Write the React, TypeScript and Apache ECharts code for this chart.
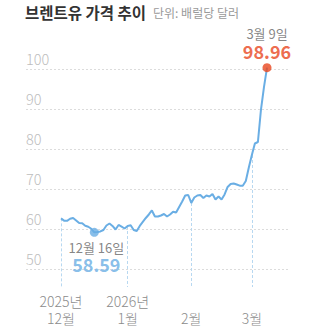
import React, { useEffect, useRef } from "react";
import * as echarts from "echarts";

const dates = [
  "2025-12-01", "2025-12-02", "2025-12-03", "2025-12-04", "2025-12-05",
  "2025-12-08", "2025-12-09", "2025-12-10", "2025-12-11", "2025-12-12",
  "2025-12-15", "2025-12-16", "2025-12-17", "2025-12-18", "2025-12-19",
  "2025-12-22", "2025-12-23", "2025-12-24", "2025-12-26", "2025-12-29",
  "2025-12-30", "2025-12-31",
  "2026-01-02", "2026-01-05", "2026-01-06", "2026-01-07", "2026-01-08",
  "2026-01-09", "2026-01-12", "2026-01-13", "2026-01-14", "2026-01-15",
  "2026-01-16", "2026-01-19", "2026-01-20", "2026-01-21", "2026-01-22",
  "2026-01-23", "2026-01-26", "2026-01-27", "2026-01-28", "2026-01-29",
  "2026-01-30",
  "2026-02-02", "2026-02-03", "2026-02-04", "2026-02-05", "2026-02-06",
  "2026-02-09", "2026-02-10", "2026-02-11", "2026-02-12", "2026-02-13",
  "2026-02-16", "2026-02-17", "2026-02-18", "2026-02-19", "2026-02-20",
  "2026-02-23", "2026-02-24", "2026-02-25", "2026-02-26", "2026-02-27",
  "2026-03-02", "2026-03-03", "2026-03-04", "2026-03-05", "2026-03-06",
  "2026-03-09",
];

const brentPrice = [
  62.0, 61.45, 61.4, 61.9, 62.1, 61.5, 60.85, 60.8, 60.2, 59.95,
  59.45, 58.59, 58.66, 58.79, 59.15, 60.26, 60.75, 60.14, 59.28, 60.38,
  59.96, 59.52,
  60.14, 60.3, 59.15, 58.91, 60.14, 61.12, 62.1, 62.96, 63.94, 62.47,
  62.47, 62.71, 63.08, 62.47, 62.96, 63.64, 63.45, 64.8, 66.14, 67.62,
  67.74,
  65.78, 67.13, 67.62, 67.74, 67.0, 67.62, 67.37, 67.98, 66.63, 67.37,
  66.63, 67.86, 69.7, 70.44, 70.56, 70.31, 70.02, 70.02, 71.17, 74.48,
  77.55, 80.37, 80.74, 88.6, 94.2, 98.96,
];

// month ticks: first trading day of each month -> label (year line, month line)
const monthTickDates = ["2025-12-01", "2026-01-02", "2026-02-02", "2026-03-02"];
const monthTickYears = ["2025년", "2026년", "", ""];
const monthTickMonths = ["12월", "1월", "2월", "3월"];

const highlightDates = ["2025-12-16", "2026-03-09"];
const highlightNames = ["12월 16일", "3월 9일"];
const highlightValues = [58.59, 98.96];
const highlightColors = ["#6aaee4", "#e8461e"];
const highlightPositions = ["bottom", "top"];

const gridTickLabels = [50, 60, 70, 80, 90, 100];

const FONT = "Noto Sans CJK KR";
const DATA_MIN = 45.17;
const DATA_MAX = 100.85;

export default function App() {
  const ref = useRef<HTMLDivElement>(null);

  useEffect(() => {
    if (!ref.current) return;
    const chart = echarts.init(ref.current, null, { renderer: "svg" });

    const markLineData = monthTickDates.map((d) => {
      const idx = dates.indexOf(d);
      return [
        { coord: [d, brentPrice[idx]] },
        { coord: [d, DATA_MIN] },
      ];
    });

    const xLabelBase = {
      interval: (_i: number, v: string) => monthTickDates.indexOf(v) >= 0,
      fontFamily: FONT,
      fontSize: 14,
      fontWeight: 300,
      color: "#8c8c8c",
      lineHeight: 16,
    };

    const option: any = {
      animation: false,
      textStyle: { fontFamily: FONT },
      graphic: [
        {
          type: "text",
          left: 25,
          top: 4,
          style: {
            text: "브렌트유 가격 추이",
            fontSize: 15.5,
            fontWeight: "bold",
            fontFamily: FONT,
            fill: "#333333",
          },
        },
        {
          type: "text",
          left: 153,
          top: 6,
          style: {
            text: "단위: 배럴당 달러",
            fontSize: 12,
            fontFamily: FONT,
            fill: "#9a9a9a",
          },
        },
      ],
      grid: [
        { left: 26, right: 27, top: 69, bottom: 25 },
        { left: 61, right: 48, top: 60, bottom: 47 },
      ],
      xAxis: [
        { type: "value", gridIndex: 0, min: 0, max: 1, show: false },
        {
          type: "category",
          gridIndex: 1,
          data: dates,
          boundaryGap: false,
          axisLine: { show: false },
          axisTick: { show: false },
          splitLine: { show: false },
          axisLabel: {
            ...xLabelBase,
            margin: 6,
            formatter: (v: string) => {
              const k = monthTickDates.indexOf(v);
              return k < 0 ? "" : monthTickYears[k];
            },
          },
        },
        {
          type: "category",
          gridIndex: 1,
          data: dates,
          position: "bottom",
          boundaryGap: false,
          axisLine: { show: false },
          axisTick: { show: false },
          splitLine: { show: false },
          axisLabel: {
            ...xLabelBase,
            margin: 23,
            formatter: (v: string) => {
              const k = monthTickDates.indexOf(v);
              return k < 0 ? "" : monthTickMonths[k];
            },
          },
        },
      ],
      yAxis: [
        {
          type: "value",
          gridIndex: 0,
          min: 40,
          max: 100,
          interval: 10,
          axisLine: { show: false },
          axisTick: { show: false },
          axisLabel: {
            inside: true,
            margin: 0,
            align: "left",
            verticalAlign: "bottom",
            padding: [0, 0, 3, 0],
            lineHeight: 16,
            fontSize: 14.5,
            fontWeight: 300,
            color: "#bdbdbd",
            fontFamily: FONT,
            formatter: (v: number) => (gridTickLabels.indexOf(v) >= 0 ? String(v) : ""),
          },
          splitLine: {
            show: true,
            lineStyle: {
              type: [2, 2],
              width: 1,
              color: ["rgba(0,0,0,0)", "#dcdcdc", "#dcdcdc", "#dcdcdc", "#dcdcdc", "#dcdcdc", "#dcdcdc"],
            },
          },
        },
        {
          type: "value",
          gridIndex: 1,
          min: DATA_MIN,
          max: DATA_MAX,
          show: false,
          splitLine: { show: false },
        },
      ],
      series: [
        {
          type: "line",
          xAxisIndex: 1,
          yAxisIndex: 1,
          data: brentPrice,
          showSymbol: false,
          symbol: "none",
          clip: false,
          lineStyle: { color: "#6aaee4", width: 2 },
          markLine: {
            silent: true,
            symbol: "none",
            label: { show: false },
            lineStyle: { color: "#b7d8f1", type: [3, 2], width: 1 },
            data: markLineData,
            z: 1,
          },
          z: 3,
        },
        {
          type: "scatter",
          xAxisIndex: 1,
          yAxisIndex: 1,
          symbolSize: 9,
          clip: false,
          z: 5,
          data: highlightDates.map((d, i) => ({
            value: [d, highlightValues[i]],
            itemStyle: { color: highlightColors[i] },
            label: {
              show: true,
              position: highlightPositions[i],
              distance: 3,
              offset: i === 0 ? [2, 0] : [0, 0],
              formatter: `{d|${highlightNames[i]}}\n{v|${highlightValues[i].toFixed(2)}}`,
              rich: {
                d: { fontSize: 13, color: "#666666", lineHeight: 15, fontFamily: FONT, align: "center" },
                v: {
                  fontSize: 18,
                  fontWeight: "bold",
                  color: highlightColors[i],
                  lineHeight: 19,
                  fontFamily: FONT,
                  align: "center",
                },
              },
            },
          })),
        },
      ],
    };

    chart.setOption(option);
    return () => chart.dispose();
  }, []);

  return (
    <div
      ref={ref}
      style={{ position: "fixed", left: 0, top: 0, width: 315, height: 334, background: "#fff" }}
    />
  );
}
